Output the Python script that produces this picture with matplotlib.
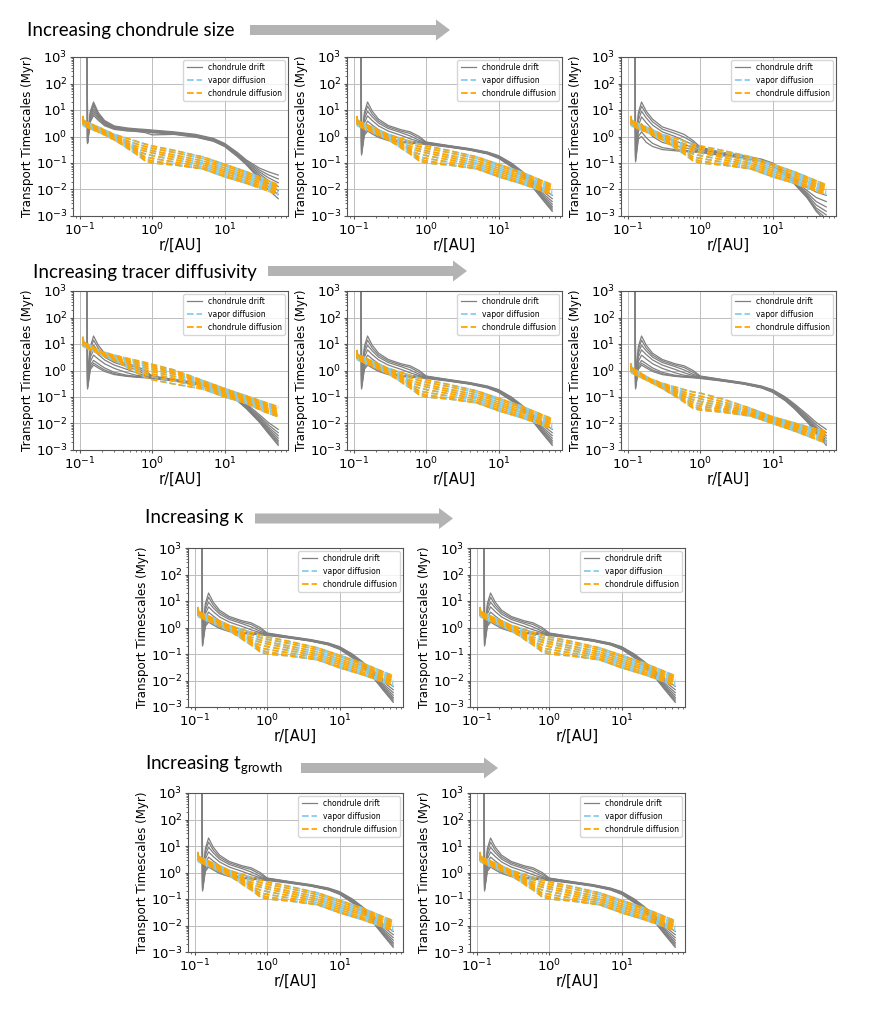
import matplotlib
matplotlib.use('Agg')
import matplotlib.pyplot as plt
from matplotlib.patches import FancyArrow
from matplotlib.lines import Line2D

R_DRIFT = [0.11, 0.126, 0.128, 0.14, 0.155, 0.18, 0.22, 0.3, 0.45, 0.6, 0.8,
           1.0, 2.0, 4.0, 7.0, 10.0, 15.0, 20.0, 30.0, 40.0, 55.0]
R_DIFF = [0.11, 0.113, 0.2, 0.3, 0.4, 0.5, 0.6, 0.7, 0.8, 1.0, 2.0, 5.0,
          10.0, 20.0, 35.0, 55.0]

# chondrule drift timescales (Myr), one row per curve
DRIFT_SMALL = [
    [2e4, 2e4, 0.70, 9.0, 20.0, 8.0, 4.0, 2.5, 2.1, 1.95, 1.85, 1.75, 1.5, 1.2, 0.85, 0.55, 0.25, 0.13, 0.065, 0.047, 0.035],
    [2e4, 2e4, 0.65, 8.0, 17.0, 7.2, 3.7, 2.35, 2.0, 1.85, 1.75, 1.65, 1.42, 1.13, 0.8, 0.52, 0.23, 0.12, 0.055, 0.036, 0.025],
    [2e4, 2e4, 0.62, 7.0, 14.0, 6.5, 3.4, 2.25, 1.9, 1.78, 1.68, 1.58, 1.36, 1.08, 0.76, 0.49, 0.215, 0.11, 0.047, 0.028, 0.018],
    [2e4, 2e4, 0.60, 6.0, 11.0, 5.8, 3.15, 2.15, 1.82, 1.72, 1.62, 1.52, 1.32, 1.04, 0.73, 0.47, 0.2, 0.1, 0.04, 0.022, 0.013],
    [2e4, 2e4, 0.58, 5.0, 9.0, 5.2, 2.95, 2.05, 1.75, 1.66, 1.56, 1.46, 1.28, 1.0, 0.7, 0.45, 0.19, 0.095, 0.034, 0.017, 0.009],
    [2e4, 2e4, 0.56, 4.2, 7.5, 4.6, 2.75, 1.95, 1.68, 1.6, 1.5, 1.38, 1.24, 0.97, 0.68, 0.43, 0.18, 0.09, 0.029, 0.013, 0.0065],
    [2e4, 2e4, 0.54, 3.6, 6.2, 4.1, 2.55, 1.85, 1.62, 1.55, 1.4, 1.15, 1.2, 0.94, 0.66, 0.42, 0.175, 0.085, 0.025, 0.01, 0.0045],
]
DRIFT_FID = [
    [2e4, 2e4, 0.60, 8.0, 20.0, 9.0, 4.5, 2.6, 1.8, 1.5, 1.0, 0.62, 0.46, 0.35, 0.26, 0.19, 0.10, 0.055, 0.022, 0.011, 0.006],
    [2e4, 2e4, 0.50, 6.0, 14.0, 7.0, 3.8, 2.3, 1.6, 1.3, 0.85, 0.60, 0.45, 0.34, 0.25, 0.18, 0.095, 0.05, 0.019, 0.009, 0.0045],
    [2e4, 2e4, 0.40, 4.5, 9.0, 5.5, 3.2, 2.0, 1.4, 1.05, 0.72, 0.58, 0.44, 0.33, 0.245, 0.175, 0.09, 0.047, 0.017, 0.0075, 0.0035],
    [2e4, 2e4, 0.33, 3.2, 6.0, 4.0, 2.5, 1.6, 1.1, 0.82, 0.64, 0.56, 0.43, 0.325, 0.24, 0.17, 0.085, 0.044, 0.015, 0.0065, 0.0028],
    [2e4, 2e4, 0.28, 2.2, 3.8, 2.7, 1.8, 1.2, 0.82, 0.66, 0.6, 0.55, 0.42, 0.32, 0.235, 0.165, 0.082, 0.042, 0.014, 0.0058, 0.0023],
    [2e4, 2e4, 0.24, 1.6, 2.4, 1.8, 1.25, 0.85, 0.66, 0.6, 0.57, 0.54, 0.415, 0.315, 0.23, 0.16, 0.078, 0.04, 0.013, 0.0052, 0.002],
    [2e4, 2e4, 0.22, 1.3, 1.9, 1.45, 1.05, 0.75, 0.62, 0.58, 0.55, 0.52, 0.41, 0.31, 0.225, 0.155, 0.075, 0.038, 0.012, 0.0047, 0.0017],
    [2e4, 2e4, 0.20, 1.1, 1.6, 1.25, 0.92, 0.7, 0.6, 0.56, 0.53, 0.5, 0.4, 0.305, 0.22, 0.15, 0.072, 0.036, 0.0115, 0.0043, 0.0015],
]
DRIFT_LARGE = [
    [2e4, 2e4, 0.30, 8.0, 20.0, 9.0, 4.5, 2.3, 1.6, 1.2, 0.7, 0.4, 0.25, 0.19, 0.14, 0.1, 0.05, 0.025, 0.012, 0.008, 0.006],
    [2e4, 2e4, 0.25, 6.0, 14.0, 7.0, 3.6, 1.9, 1.3, 0.95, 0.6, 0.36, 0.24, 0.18, 0.135, 0.095, 0.045, 0.022, 0.009, 0.005, 0.0035],
    [2e4, 2e4, 0.20, 4.0, 9.0, 5.0, 2.7, 1.5, 1.0, 0.7, 0.48, 0.33, 0.23, 0.175, 0.13, 0.09, 0.042, 0.02, 0.0075, 0.0035, 0.0022],
    [2e4, 2e4, 0.18, 2.5, 5.5, 3.3, 1.8, 1.0, 0.7, 0.5, 0.38, 0.3, 0.22, 0.17, 0.125, 0.085, 0.04, 0.019, 0.0065, 0.0026, 0.0015],
    [2e4, 2e4, 0.15, 1.5, 3.0, 1.8, 1.0, 0.6, 0.45, 0.38, 0.32, 0.28, 0.21, 0.165, 0.12, 0.082, 0.038, 0.018, 0.0058, 0.002, 0.0011],
    [2e4, 2e4, 0.12, 1.0, 1.5, 0.9, 0.55, 0.38, 0.32, 0.3, 0.28, 0.26, 0.2, 0.16, 0.115, 0.08, 0.036, 0.017, 0.0052, 0.0017, 0.0008],
    [2e4, 2e4, 0.11, 0.8, 1.0, 0.6, 0.42, 0.32, 0.29, 0.27, 0.26, 0.25, 0.19, 0.155, 0.11, 0.078, 0.035, 0.016, 0.0048, 0.0015, 0.0006],
]

# diffusion timescales (Myr), one row per curve
DIFF_FID = [
    [6.0, 4.0, 2.0, 1.2, 0.95, 0.78, 0.66, 0.58, 0.52, 0.44, 0.3, 0.17, 0.09, 0.047, 0.025, 0.015],
    [5.6, 3.8, 1.9, 1.1, 0.8, 0.62, 0.53, 0.47, 0.42, 0.36, 0.25, 0.145, 0.078, 0.041, 0.022, 0.013],
    [5.2, 3.6, 1.8, 1.05, 0.72, 0.52, 0.43, 0.38, 0.34, 0.29, 0.2, 0.12, 0.065, 0.035, 0.019, 0.0115],
    [4.8, 3.4, 1.7, 0.98, 0.66, 0.47, 0.36, 0.31, 0.28, 0.24, 0.165, 0.1, 0.055, 0.03, 0.0165, 0.01],
    [4.4, 3.1, 1.6, 0.9, 0.6, 0.43, 0.32, 0.25, 0.22, 0.19, 0.135, 0.085, 0.047, 0.026, 0.0145, 0.009],
    [4.0, 2.9, 1.5, 0.84, 0.55, 0.39, 0.29, 0.21, 0.17, 0.15, 0.11, 0.072, 0.04, 0.022, 0.0125, 0.008],
    [3.6, 2.7, 1.4, 0.78, 0.5, 0.35, 0.26, 0.19, 0.14, 0.12, 0.09, 0.062, 0.034, 0.019, 0.011, 0.007],
    [3.2, 2.5, 1.3, 0.74, 0.46, 0.3, 0.22, 0.16, 0.12, 0.1, 0.085, 0.06, 0.03, 0.017, 0.01, 0.0063],
]
DIFF_LOW = [
    [19.0, 12.0, 5.2, 3.8, 3.1, 2.7, 2.4, 2.2, 2.0, 1.7, 1.05, 0.42, 0.21, 0.11, 0.065, 0.043],
    [17.5, 11.3, 5.0, 3.6, 2.85, 2.42, 2.12, 1.92, 1.75, 1.48, 0.93, 0.38, 0.19, 0.1, 0.058, 0.038],
    [16.0, 10.7, 4.8, 3.4, 2.62, 2.16, 1.86, 1.65, 1.5, 1.27, 0.82, 0.35, 0.17, 0.092, 0.052, 0.034],
    [14.5, 10.1, 4.6, 3.2, 2.4, 1.92, 1.62, 1.41, 1.27, 1.08, 0.72, 0.32, 0.155, 0.084, 0.046, 0.03],
    [13.0, 9.5, 4.4, 3.0, 2.2, 1.7, 1.4, 1.2, 1.06, 0.9, 0.6, 0.29, 0.14, 0.077, 0.041, 0.026],
    [11.5, 9.0, 4.2, 2.8, 2.0, 1.5, 1.2, 1.0, 0.87, 0.73, 0.5, 0.26, 0.125, 0.07, 0.036, 0.023],
    [10.0, 8.5, 4.0, 2.6, 1.8, 1.3, 1.02, 0.83, 0.7, 0.58, 0.4, 0.23, 0.112, 0.063, 0.032, 0.02],
    [9.0, 8.0, 3.8, 2.4, 1.6, 1.1, 0.85, 0.67, 0.55, 0.45, 0.31, 0.2, 0.1, 0.057, 0.028, 0.018],
]
DIFF_HIGH = [
    [1.9, 1.3, 0.50, 0.33, 0.26, 0.22, 0.19, 0.17, 0.155, 0.14, 0.085, 0.037, 0.018, 0.0105, 0.0068, 0.005],
    [1.75, 1.22, 0.48, 0.31, 0.23, 0.185, 0.155, 0.135, 0.12, 0.108, 0.068, 0.032, 0.0165, 0.0095, 0.006, 0.0044],
    [1.6, 1.15, 0.46, 0.29, 0.21, 0.16, 0.13, 0.11, 0.097, 0.085, 0.056, 0.028, 0.015, 0.0085, 0.0053, 0.0039],
    [1.5, 1.08, 0.44, 0.27, 0.19, 0.145, 0.11, 0.09, 0.078, 0.068, 0.047, 0.025, 0.0138, 0.0077, 0.0047, 0.0034],
    [1.4, 1.0, 0.42, 0.255, 0.172, 0.128, 0.097, 0.076, 0.063, 0.055, 0.04, 0.023, 0.0127, 0.007, 0.0041, 0.0029],
    [1.3, 0.93, 0.41, 0.24, 0.156, 0.112, 0.085, 0.064, 0.051, 0.045, 0.035, 0.021, 0.0117, 0.0063, 0.0036, 0.0025],
    [1.15, 0.86, 0.395, 0.225, 0.142, 0.1, 0.074, 0.055, 0.043, 0.037, 0.03, 0.02, 0.0108, 0.0057, 0.0032, 0.0021],
    [1.0, 0.8, 0.38, 0.21, 0.13, 0.09, 0.065, 0.048, 0.038, 0.032, 0.027, 0.019, 0.01, 0.0052, 0.0029, 0.0018],
]

# which curve families each of the 10 panels shows
PANEL_DRIFT = [DRIFT_SMALL, DRIFT_FID, DRIFT_LARGE,
               DRIFT_FID, DRIFT_FID, DRIFT_FID,
               DRIFT_FID, DRIFT_FID, DRIFT_FID, DRIFT_FID]
PANEL_DIFF = [DIFF_FID, DIFF_FID, DIFF_FID,
              DIFF_LOW, DIFF_FID, DIFF_HIGH,
              DIFF_FID, DIFF_FID, DIFF_FID, DIFF_FID]

TITLES = ['Increasing chondrule size', 'Increasing tracer diffusivity',
          'Increasing κ', r'Increasing t$_\mathregular{growth}$']
LEGEND_LABELS = ['chondrule drift', 'vapor diffusion', 'chondrule diffusion']

# ---- layout (pixels of the 888x1011 image) ----
W, H = 888, 1011
fig = plt.figure(figsize=(W / 100, H / 100), dpi=100)
fig.patch.set_facecolor('white')

panel_left = [73, 347, 621, 73, 347, 621, 188, 470, 188, 470]
panel_top = [57, 57, 57, 291, 291, 291, 548, 548, 793, 793]
AX_W, AX_H = 215, 159

title_pos = [(27, 36), (33, 278), (145, 523), (145, 770)]
arrow_pos = [(250, 450, 30), (268, 467, 271), (255, 453, 518.5), (301, 498, 768)]

for i in range(10):
    ax = fig.add_axes([panel_left[i] / W, 1 - (panel_top[i] + AX_H) / H, AX_W / W, AX_H / H])
    for y in PANEL_DRIFT[i]:
        ax.plot(R_DRIFT, y, color='gray', lw=0.9)
    for y in PANEL_DIFF[i]:
        ax.plot(R_DIFF, y, color='skyblue', lw=1.3, ls='--')
    for y in PANEL_DIFF[i]:
        ax.plot(R_DIFF, y, color='orange', lw=1.1, ls=(2.5, (3.7, 2.2)))
    ax.set_xscale('log')
    ax.set_yscale('log')
    ax.set_ylim(1e-3, 1e3)
    ax.grid(True, which='major', color='#bdbdbd', lw=0.7)
    for s in ax.spines.values():
        s.set_color('#555555')
        s.set_linewidth(0.8)
    ax.tick_params(which='both', labelsize=9.5, length=2.5, pad=1.5, color='#555555')
    ax.tick_params(which='minor', length=1.5)
    ax.set_xlabel('r/[AU]', fontsize=10.5, labelpad=0)
    ax.set_ylabel('Transport Timescales (Myr)', fontsize=8.6, labelpad=1)
    handles = [Line2D([], [], color='gray', lw=0.9),
               Line2D([], [], color='skyblue', lw=1.3, ls='--'),
               Line2D([], [], color='orange', lw=1.3, ls='--')]
    ax.legend(handles, LEGEND_LABELS, loc='upper right', fontsize=5.5,
              borderaxespad=0.4)

for (tx, ty), text in zip(title_pos, TITLES):
    fig.text(tx / W, 1 - ty / H, text, fontsize=13.5, family=['Lato', 'DejaVu Sans'],
             ha='left', va='baseline')

for x0, x1, yc in arrow_pos:
    arr = FancyArrow(x0 / 100, (H - yc) / 100, (x1 - x0) / 100, 0,
                     width=0.10, head_width=0.21, head_length=0.14,
                     length_includes_head=True, color='#b3b3b3', lw=0,
                     transform=fig.dpi_scale_trans)
    fig.patches.append(arr)

fig.savefig('out.png', dpi=100)
